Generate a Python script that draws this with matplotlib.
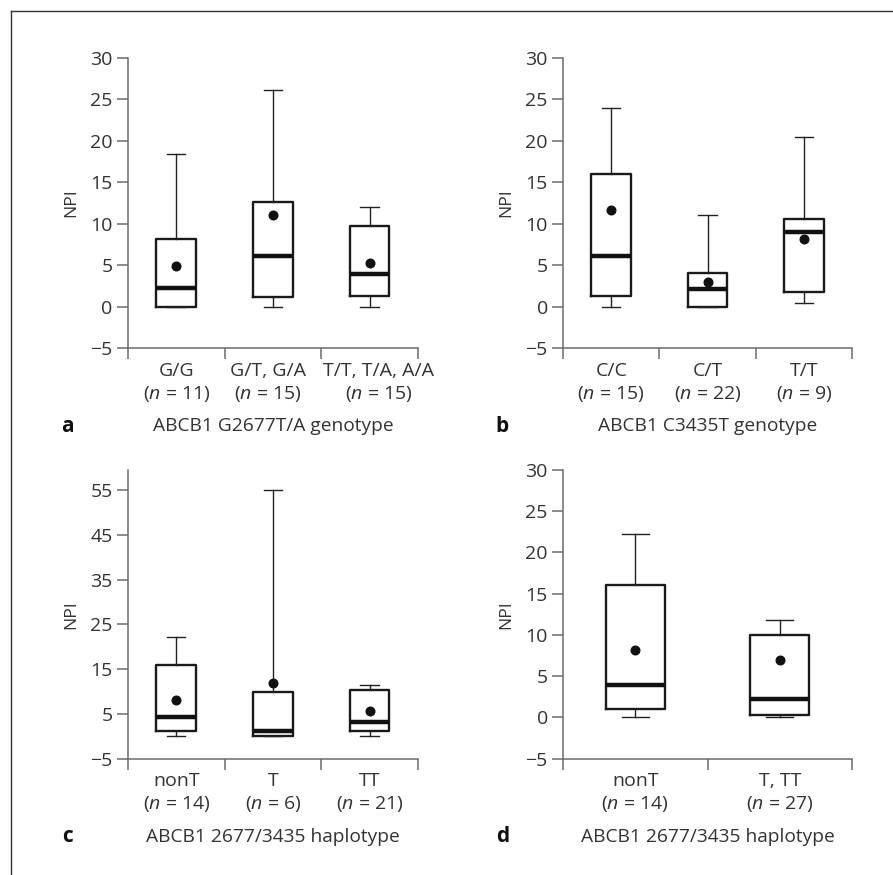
import matplotlib
matplotlib.use('Agg')
import matplotlib.pyplot as plt
from matplotlib.lines import Line2D

plt.rcParams['font.family'] = ['Open Sans', 'DejaVu Sans']
plt.rcParams['mathtext.fontset'] = 'custom'
plt.rcParams['mathtext.it'] = 'Open Sans:italic'
plt.rcParams['mathtext.rm'] = 'Open Sans'

# panel a: ABCB1 G2677T/A genotype
a_groups = ['G/G', 'G/T, G/A', 'T/T, T/A, A/A']
a_n = [11, 15, 15]
a_low = [0, 0, 0]
a_q1 = [0, 1.2, 1.3]
a_med = [2.2, 6.1, 3.95]
a_q3 = [8.1, 12.6, 9.75]
a_high = [18.4, 26.1, 12.0]
a_mean = [4.95, 11.1, 5.2]

# panel b: ABCB1 C3435T genotype
b_groups = ['C/C', 'C/T', 'T/T']
b_n = [15, 22, 9]
b_low = [0, 0, 0.45]
b_q1 = [1.3, 0, 1.75]
b_med = [6.1, 2.15, 9.0]
b_q3 = [16.0, 4.0, 10.6]
b_high = [24.0, 11.0, 20.5]
b_mean = [11.6, 3.0, 8.1]

# panel c: ABCB1 2677/3435 haplotype (3 groups)
c_groups = ['nonT', 'T', 'TT']
c_n = [14, 6, 21]
c_low = [0, 0, 0]
c_q1 = [1.1, 0, 1.1]
c_med = [4.3, 1.2, 3.1]
c_q3 = [16.0, 10.0, 10.4]
c_high = [22.1, 55.0, 11.4]
c_mean = [8.2, 12.0, 5.6]

# panel d: ABCB1 2677/3435 haplotype (2 groups)
d_groups = ['nonT', 'T, TT']
d_n = [14, 27]
d_low = [0, 0]
d_q1 = [1.05, 0.3]
d_med = [3.9, 2.2]
d_q3 = [16.0, 10.0]
d_high = [22.2, 11.8]
d_mean = [8.15, 6.9]

AX_COL = '#6b6b6b'
TXT_COL = '#333333'

fig = plt.figure(figsize=(8.93, 8.75), dpi=100)


def draw_panel(rect, groups, n, low, q1, med, q3, high, mean, ylim, yticks, letter, title,
               label_shift=None):
    ax = fig.add_axes(rect)
    stats = []
    for i in range(len(groups)):
        stats.append({'whislo': low[i], 'q1': q1[i], 'med': med[i], 'q3': q3[i],
                      'whishi': high[i], 'mean': mean[i], 'fliers': []})
    k = len(groups)
    pos = [i + 0.5 for i in range(k)]
    if label_shift is None:
        label_shift = [0] * k
    ax.bxp(stats, positions=pos, widths=0.41, capwidths=0.19, showmeans=True,
           showfliers=False, patch_artist=False,
           boxprops=dict(color='#1a1a1a', linewidth=1.7),
           medianprops=dict(color='#111111', linewidth=3.2, solid_capstyle='butt'),
           whiskerprops=dict(color='#222222', linewidth=1.0),
           capprops=dict(color='#222222', linewidth=1.0),
           meanprops=dict(marker='o', markerfacecolor='#111111', markeredgecolor='#111111',
                          markersize=6.2))
    ax.set_xlim(0, k)
    ax.set_ylim(*ylim)
    ax.set_yticks(yticks)
    ax.set_yticklabels([str(t) if t >= 0 else '\u2212' + str(-t) for t in yticks])
    ax.set_xticks(range(k + 1))
    ax.set_xticklabels([])
    for s in ['top', 'right']:
        ax.spines[s].set_visible(False)
    for s in ['left', 'bottom']:
        ax.spines[s].set_color(AX_COL)
        ax.spines[s].set_linewidth(1.1)
    ax.tick_params(axis='both', direction='out', length=8, width=1.1, color=AX_COL,
                   labelsize=14, labelcolor=TXT_COL, pad=3)
    ax.set_ylabel('NPI', fontsize=12.5, color=TXT_COL, labelpad=8)
    tr = ax.get_xaxis_transform()
    for i, g in enumerate(groups):
        x = pos[i] + label_shift[i]
        ax.text(x, -0.078, g, transform=tr, ha='center', va='center',
                fontsize=14, color=TXT_COL)
        ax.text(x, -0.157, '($\\it{n}$ = %d)' % n[i], transform=tr, ha='center',
                va='center', fontsize=14, color=TXT_COL)
    ax.text(0.5, -0.27, title, transform=ax.transAxes, ha='center', va='center',
            fontsize=13.8, color=TXT_COL)
    ax.text(-0.21, -0.27, letter, transform=ax.transAxes, ha='center', va='center',
            fontsize=15, fontweight='bold', color='#111111')
    return ax


draw_panel([0.1433, 0.6023, 0.3248, 0.3314], a_groups, a_n, a_low, a_q1, a_med, a_q3,
           a_high, a_mean, (-5, 30), [-5, 0, 5, 10, 15, 20, 25, 30], 'a',
           'ABCB1 G2677T/A genotype', label_shift=[0, -0.05, 0.09])
draw_panel([0.6305, 0.6023, 0.3236, 0.3314], b_groups, b_n, b_low, b_q1, b_med, b_q3,
           b_high, b_mean, (-5, 30), [-5, 0, 5, 10, 15, 20, 25, 30], 'b',
           'ABCB1 C3435T genotype')
draw_panel([0.1433, 0.1329, 0.3248, 0.3300], c_groups, c_n, c_low, c_q1, c_med, c_q3,
           c_high, c_mean, (-5, 59.5), [-5, 5, 15, 25, 35, 45, 55], 'c',
           'ABCB1 2677/3435 haplotype')
draw_panel([0.6305, 0.1329, 0.3236, 0.3303], d_groups, d_n, d_low, d_q1, d_med, d_q3,
           d_high, d_mean, (-5, 30), [-5, 0, 5, 10, 15, 20, 25, 30], 'd',
           'ABCB1 2677/3435 haplotype')

# outer frame (top and left edges)
fx = 10.5 / 893
fy = 1 - 10.5 / 875
fig.add_artist(Line2D([fx, 1.0], [fy, fy], transform=fig.transFigure, color='#333333', linewidth=1.0))
fig.add_artist(Line2D([fx, fx], [fy, 0.0], transform=fig.transFigure, color='#333333', linewidth=1.0))

fig.savefig('out.png', dpi=100)
